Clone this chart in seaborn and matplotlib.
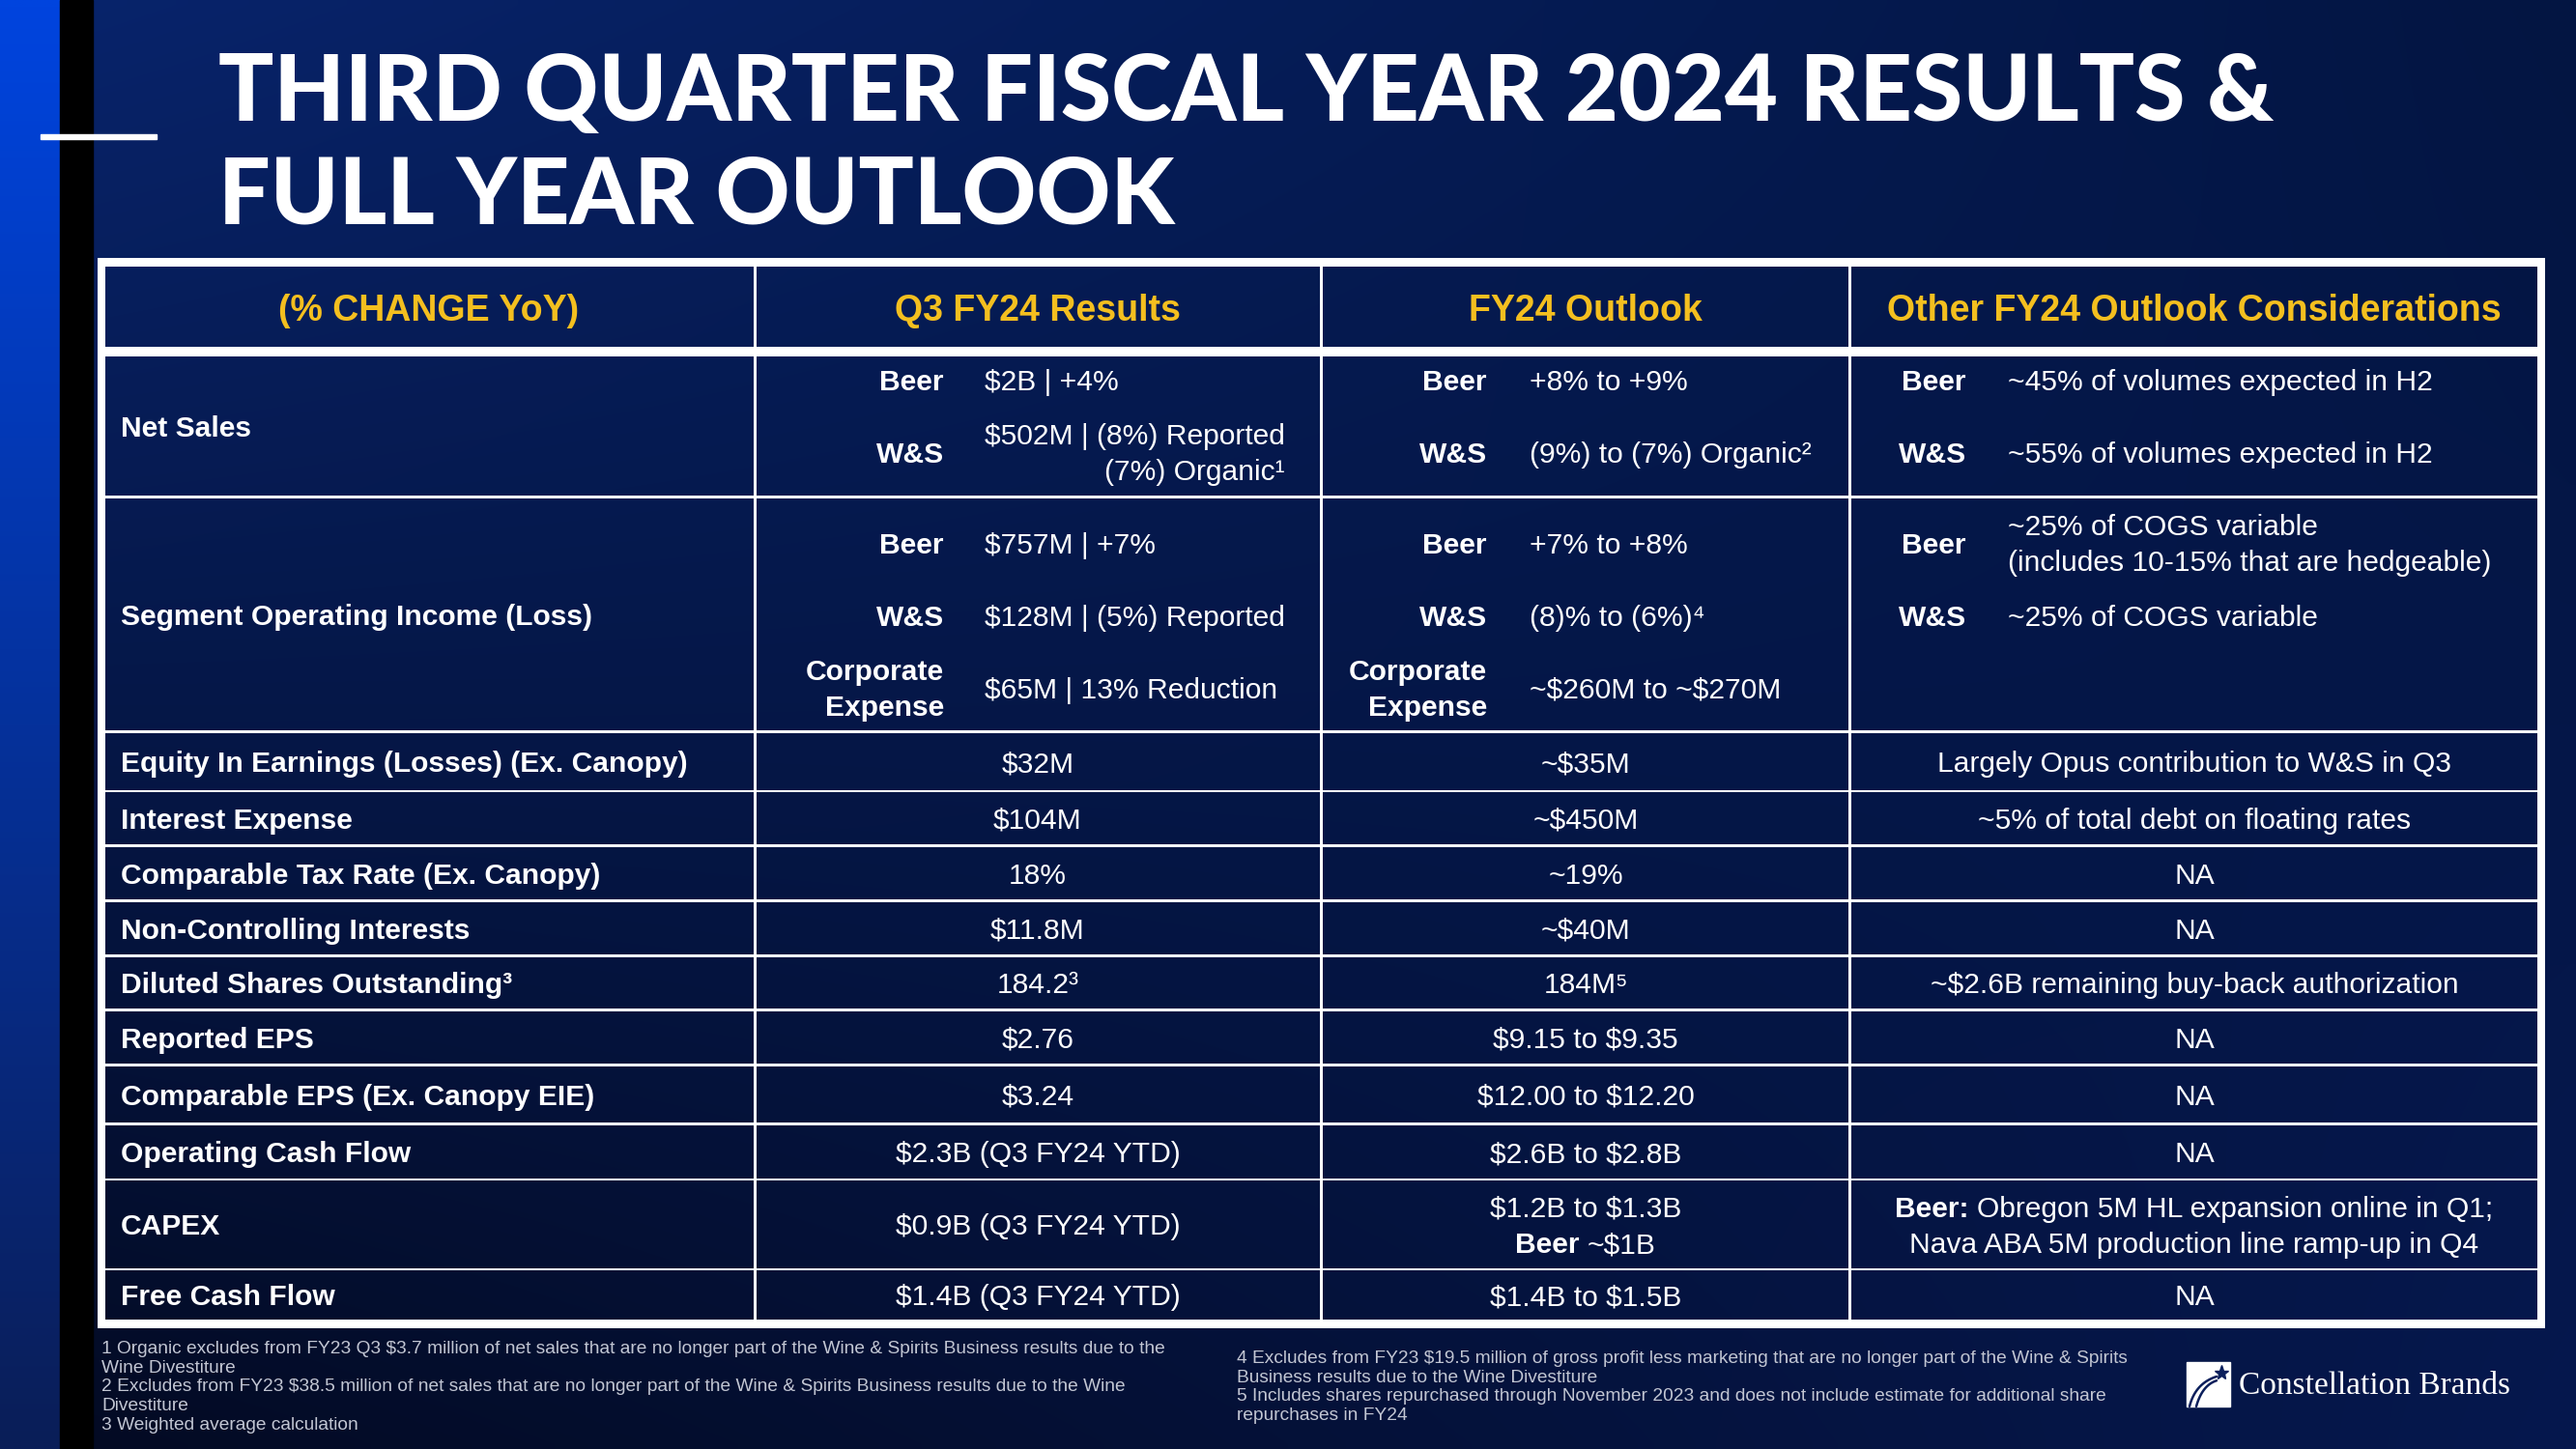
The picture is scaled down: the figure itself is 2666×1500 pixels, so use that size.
#!/usr/bin/env python3

import numpy as np
import matplotlib
matplotlib.use("Agg")
import matplotlib.pyplot as plt
from matplotlib.patches import Rectangle
import seaborn as sns

# ---- slide content ----
title_lines = ["THIRD QUARTER FISCAL YEAR 2024 RESULTS &", "FULL YEAR OUTLOOK"]
headers = ["(% CHANGE YoY)", "Q3 FY24 Results", "FY24 Outlook", "Other FY24 Outlook Considerations"]

row_labels = ["Net Sales", "Segment Operating Income (Loss)",
              "Equity In Earnings (Losses) (Ex. Canopy)", "Interest Expense",
              "Comparable Tax Rate (Ex. Canopy)", "Non-Controlling Interests",
              "Diluted Shares Outstanding³", "Reported EPS",
              "Comparable EPS (Ex. Canopy EIE)", "Operating Cash Flow", "CAPEX",
              "Free Cash Flow"]

# rows split by business segment
net_sales_segments = ["Beer", "W&S"]
net_sales_q3 = ["$2B | +4%", "$502M | (8%) Reported\n(7%) Organic¹"]
net_sales_fy24 = ["+8% to +9%", "(9%) to (7%) Organic²"]
net_sales_other = ["~45% of volumes expected in H2", "~55% of volumes expected in H2"]

soi_segments = ["Beer", "W&S", "Corporate\nExpense"]
soi_q3 = ["$757M | +7%", "$128M | (5%) Reported", "$65M | 13% Reduction"]
soi_fy24 = ["+7% to +8%", "(8)% to (6%)⁴", "~$260M to ~$270M"]
soi_other_segments = ["Beer", "W&S"]
soi_other = ["~25% of COGS variable\n(includes 10-15% that are hedgeable)", "~25% of COGS variable"]

# rows with one value per cell (Equity ... Free Cash Flow)
q3_values = ["$32M", "$104M", "18%", "$11.8M", "184.2³", "$2.76", "$3.24",
             "$2.3B (Q3 FY24 YTD)", "$0.9B (Q3 FY24 YTD)", "$1.4B (Q3 FY24 YTD)"]
fy24_values = ["~$35M", "~$450M", "~19%", "~$40M", "184M⁵", "$9.15 to $9.35",
               "$12.00 to $12.20", "$2.6B to $2.8B", "$1.2B to $1.3B\nBeer ~$1B",
               "$1.4B to $1.5B"]
other_values = ["Largely Opus contribution to W&S in Q3",
                "~5% of total debt on floating rates", "NA", "NA",
                "~$2.6B remaining buy-back authorization", "NA", "NA", "NA",
                "Beer: Obregon 5M HL expansion online in Q1;\nNava ABA 5M production line ramp-up in Q4",
                "NA"]

footnotes_left = ("1 Organic excludes from FY23 Q3 $3.7 million of net sales that are no longer part of the Wine & Spirits Business results due to the\n"
                  "Wine Divestiture\n"
                  "2 Excludes from FY23 $38.5 million of net sales that are no longer part of the Wine & Spirits Business results due to the Wine\n"
                  "Divestiture\n"
                  "3 Weighted average calculation")
footnotes_right = ("4 Excludes from FY23 $19.5 million of gross profit less marketing that are no longer part of the Wine & Spirits\n"
                   "Business results due to the Wine Divestiture\n"
                   "5 Includes shares repurchased through November 2023 and does not include estimate for additional share\n"
                   "repurchases in FY24")
logo_text = "Constellation Brands"

# ---- layout (pixels) ----
W, H = 2666, 1500
GOLD = "#f4bf1f"
NAVY = "#0b1f5c"
FOOT = "#c2c6d3"
BODY = 21.6
HEAD = 27
FOOTSIZE = 13.8
LS_BODY = 1.41
LS_FOOT = 1.21

col_centers = [444, 1074, 1641, 2271]
seg_label_x = [977, 1539, 2035]
seg_value_x = [1019, 1583, 2078]
label_x = 125
row_bounds = [(369, 513), (516, 756), (759, 818), (820, 874), (877, 931), (934, 988),
              (991, 1044), (1047, 1101), (1104, 1162), (1165, 1220), (1222, 1313), (1315, 1366)]
net_sales_y = [393, 468]
soi_y = [562, 637, 712]


def main():
    sns.set_theme(style="white")
    plt.rcParams["font.family"] = ["Liberation Sans", "DejaVu Sans"]
    plt.rcParams["text.parse_math"] = False

    fig = plt.figure(figsize=(W / 100, H / 100), dpi=100)
    ax = fig.add_axes([0, 0, 1, 1])

    # background gradient
    yy, xx = np.mgrid[0:1:150j, 0:1:267j]
    tl = np.array([8, 36, 108]); tr = np.array([3, 21, 66])
    bl = np.array([3, 10, 34]); br = np.array([6, 24, 78])
    xx, yy = xx[..., None], yy[..., None]
    bg = ((1 - xx) * (1 - yy) * tl + xx * (1 - yy) * tr
          + (1 - xx) * yy * bl + xx * yy * br) / 255
    ax.imshow(bg, extent=(0, W, H, 0), aspect="auto", interpolation="bilinear", zorder=0)

    # blue strip + black strip on the left
    sy = np.linspace(0, 1, 100)[:, None, None]
    strip = ((1 - sy) * np.array([0, 68, 222]) + sy * np.array([10, 30, 88])) / 255
    strip = np.repeat(strip, 2, axis=1)
    ax.imshow(strip, extent=(0, 62, H, 0), aspect="auto", interpolation="bilinear", zorder=1)
    ax.add_patch(Rectangle((62, 0), 34, H, color="black", zorder=1))
    ax.add_patch(Rectangle((42, 139), 120, 5, color="white", zorder=2))

    ax.set_xlim(0, W)
    ax.set_ylim(H, 0)
    ax.axis("off")

    def white(x, y, w, h):
        ax.add_patch(Rectangle((x, y), w, h, color="white", lw=0, zorder=3))

    # table frame and grid
    white(101, 267, 2533, 9)
    white(101, 1366, 2533, 9)
    white(101, 267, 8, 1108)
    white(2626, 267, 8, 1108)
    white(109, 359, 2517, 10)
    for (top, bottom), (nxt, _) in zip(row_bounds[:-1], row_bounds[1:]):
        white(109, bottom, 2517, nxt - bottom)
    for x0 in [780, 1366, 1913]:
        white(x0, 276, 3, 1090)

    def put(x, yc, s, size=BODY, bold=False, ha="left", color="white", ls=LS_BODY, ma=None):
        em = size / 0.72
        return ax.text(x, yc + 0.098 * em, s, fontsize=size, color=color,
                       fontweight="bold" if bold else "normal", ha=ha, va="center",
                       linespacing=ls, multialignment=ma or ("center" if ha == "center" else ha),
                       zorder=4)

    renderer = fig.canvas.get_renderer()

    def put_mixed(xc, yc, line):
        # first word bold, rest regular, centred together
        bold, rest = line.split(" ", 1)
        tb = put(0, yc, bold, bold=True)
        tr_ = put(0, yc, rest)
        wb = tb.get_window_extent(renderer).width
        wr = tr_.get_window_extent(renderer).width
        gap = 0.28 * BODY / 0.72
        x0 = xc - (wb + gap + wr) / 2
        tb.set_x(x0)
        tr_.set_x(x0 + wb + gap)

    # title
    t1 = ax.text(226, 125, title_lines[0], fontsize=60, fontweight="black",
                 family=["Lato", "DejaVu Sans"], color="white", va="baseline", zorder=4)
    t2 = ax.text(226, 232, title_lines[1], fontsize=60, fontweight="black",
                 family=["Lato", "DejaVu Sans"], color="white", va="baseline", zorder=4)
    scale = 2129 / t1.get_window_extent(renderer).width
    t1.set_fontsize(60 * scale)
    t2.set_fontsize(60 * scale)

    # header
    for xc, h in zip(col_centers, headers):
        put(xc, 318, h, size=HEAD, bold=True, ha="center", color=GOLD)

    # row labels
    for (top, bottom), lab in zip(row_bounds, row_labels):
        put(label_x, (top + bottom) / 2, lab, bold=True)

    # net sales
    for y, seg, q3, fy, oth in zip(net_sales_y, net_sales_segments, net_sales_q3,
                                   net_sales_fy24, net_sales_other):
        for lx, vx, val in zip(seg_label_x, seg_value_x, [q3, fy, oth]):
            put(lx, y, seg, bold=True, ha="right")
            if "\n" in val:
                put(vx, y, val, ma="right")
            else:
                put(vx, y, val)

    # segment operating income
    for y, seg, q3, fy in zip(soi_y, soi_segments, soi_q3, soi_fy24):
        for lx, vx, val in zip(seg_label_x[:2], seg_value_x[:2], [q3, fy]):
            put(lx, y, seg, bold=True, ha="right", ma="right")
            put(vx, y, val)
    for y, seg, val in zip(soi_y, soi_other_segments, soi_other):
        put(seg_label_x[2], y, seg, bold=True, ha="right")
        put(seg_value_x[2], y, val)

    # single value rows
    pitch = (0.21 + 0.73 * LS_BODY) * BODY / 0.72
    for (top, bottom), vals in zip(row_bounds[2:], zip(q3_values, fy24_values, other_values)):
        yc = (top + bottom) / 2
        for xc, val in zip(col_centers[1:], vals):
            lines = val.split("\n")
            y0 = yc - (len(lines) - 1) * pitch / 2
            for i, line in enumerate(lines):
                if line.startswith("Beer"):
                    put_mixed(xc, y0 + i * pitch, line)
                else:
                    put(xc, y0 + i * pitch, line, ha="center")

    # footnotes
    put(105, 1434, footnotes_left, size=FOOTSIZE, color=FOOT, ls=LS_FOOT)
    put(1280, 1434, footnotes_right, size=FOOTSIZE, color=FOOT, ls=LS_FOOT)

    # logo
    ax.add_patch(Rectangle((2263, 1410), 45, 46, color="white", zorder=4))
    t = np.linspace(0, 1, 40)
    for off in [0, 7]:
        p0 = np.array([2266 + off, 1456]); p1 = np.array([2272 + off, 1432 + off * 0.3])
        p2 = np.array([2294, 1425 + off * 0.6])
        curve = ((1 - t) ** 2)[:, None] * p0 + (2 * t * (1 - t))[:, None] * p1 + (t ** 2)[:, None] * p2
        ax.plot(curve[:, 0], curve[:, 1], color=NAVY, lw=1.8, zorder=5, solid_capstyle="round")
    ax.plot([2299], [1421], marker="*", markersize=11, color=NAVY, zorder=5)
    ax.text(2317, 1443, logo_text, fontsize=24, family=["Liberation Serif", "DejaVu Serif"],
            color="white", va="baseline", zorder=4)

    fig.savefig("out.png", dpi=100)
    plt.close(fig)


if __name__ == "__main__":
    main()
